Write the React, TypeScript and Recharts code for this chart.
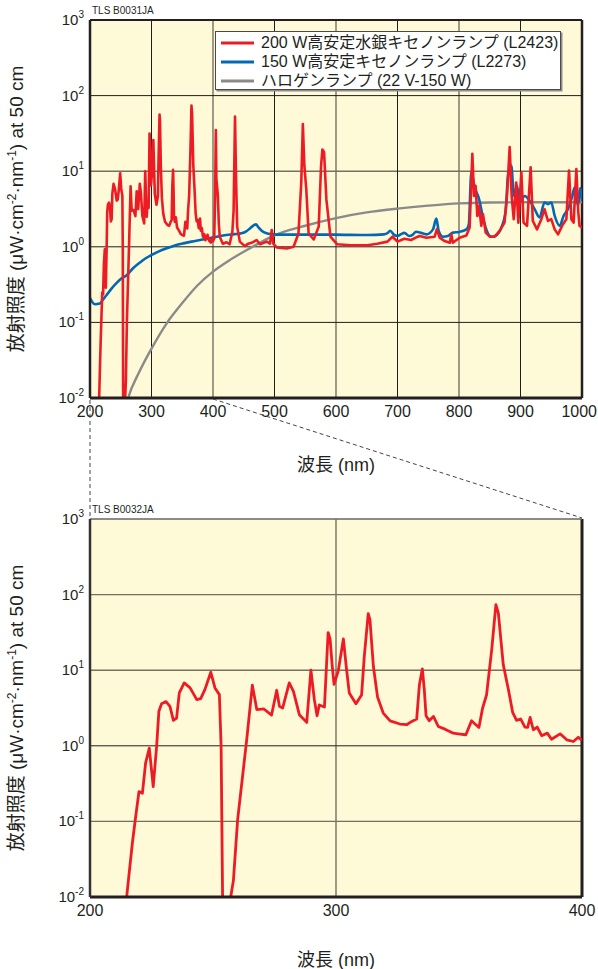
import React from 'react';
import { LineChart, Line, XAxis, YAxis, CartesianGrid, ReferenceLine, Legend } from 'recharts';

// ---- data: wavelength (nm), spectral irradiance (µW·cm⁻²·nm⁻¹ at 50 cm) ----

// 200 W Hg-Xe lamp, UV part (also used for the zoomed lower chart)
const hgXeUv: [number, number][] = [
  [213.5, 0.006], [214.9, 0.01], [217.2, 0.051], [218.3, 0.099], [219.9, 0.248], [221.3, 0.235],
  [222.6, 0.589], [224.1, 0.93], [225.7, 0.288], [227.1, 1.0], [228.0, 2.86], [229.1, 3.61],
  [230.9, 3.84], [232.5, 3.33], [233.9, 2.17], [235.2, 2.33], [236.3, 5.0], [238.3, 6.79],
  [240.7, 5.83], [243.4, 4.08], [245.0, 4.21], [246.7, 5.54], [249.1, 9.4], [250.8, 5.83],
  [252.6, 4.75], [253.3, 0.98], [253.9, 0.01], [254.5, 0.004], [256.8, 0.004], [257.2, 0.01],
  [258.3, 0.0166], [260.0, 0.104], [263.7, 1.2], [266.0, 6.33], [267.8, 3.01], [270.7, 3.07],
  [273.8, 2.55], [275.9, 5.43], [277.0, 3.33], [278.3, 3.16], [281.0, 6.79], [282.7, 5.26],
  [285.1, 2.58], [288.1, 2.04], [289.8, 10.0], [291.2, 4.08], [292.3, 2.5], [293.2, 3.47],
  [295.3, 3.26], [296.8, 31.5], [297.6, 26], [298.4, 12], [299.2, 6.5], [300.9, 9.7],
  [303.0, 25.9], [304.3, 10.2], [305.4, 5.0], [308.1, 3.6], [310.4, 4.7], [311.5, 15.2],
  [313.1, 56], [313.8, 46.7], [315.2, 11.2], [316.9, 4.4], [319.2, 2.71], [322.0, 2.14],
  [326.0, 1.94], [328.7, 1.9], [330.8, 2.1], [332.8, 2.26], [333.9, 6.4], [335.1, 10.4],
  [335.9, 5.5], [336.6, 2.5], [337.9, 2.14], [339.6, 2.45], [341.6, 1.8], [344.3, 1.66],
  [347.7, 1.47], [350.4, 1.43], [352.8, 1.4], [355.1, 2.14], [356.5, 1.94], [358.1, 1.75],
  [359.6, 3.16], [361.2, 4.7], [363.3, 18.7], [365.0, 73.8], [366.0, 57], [368.0, 11.8],
  [370.1, 5.5], [371.8, 2.77], [373.4, 2.17], [375.1, 2.26], [376.8, 1.77], [377.9, 1.75],
  [378.9, 2.37], [380.2, 1.63], [381.8, 1.77], [383.6, 1.36], [385.9, 1.47], [387.6, 1.22],
  [391.1, 1.44], [393.8, 1.2], [396.5, 1.14], [398.5, 1.3], [400.0, 1.18],
];

// 200 W Hg-Xe lamp, visible / near-IR part
const hgXeVis: [number, number][] = [
  [402, 1.3], [403.5, 5], [404.6, 35], [405.5, 8], [407.8, 4.9], [409.5, 2.0], [411, 1.36],
  [416, 1.1], [422, 1.15], [427, 1.08], [431.5, 1.58], [433.5, 3], [435.8, 53], [437.5, 8],
  [439.3, 1.85], [443.6, 1.17], [451.8, 1.02], [457.3, 1.1], [465, 1.15], [470.9, 1.23],
  [476.4, 1.08], [487.3, 1.17], [492.7, 1.1], [495.5, 1.67], [498, 1.1], [503.6, 0.98],
  [520, 0.95], [531, 1.0], [539, 1.5], [543.5, 7], [546.1, 42], [548.5, 12], [551.7, 5.7],
  [555.5, 1.5], [563.7, 1.25], [571.9, 1.85], [575.7, 11.7], [577.9, 19.4], [580.6, 17.9],
  [584.4, 4.2], [591, 1.36], [601.9, 1.08], [623.7, 1.05], [651, 1.05], [667, 1.1],
  [683.7, 1.17], [691.9, 1.36], [700, 1.17], [711, 1.28], [722, 1.23], [733, 1.36],
  [736, 1.39], [747, 1.32], [760.4, 1.36], [764, 1.7], [768.6, 1.32], [776.7, 1.19],
  [785, 1.13], [787.5, 1.46], [790, 1.13], [801, 1.32], [812, 1.41], [817.3, 1.8],
  [821.7, 17], [824.4, 4.7], [827, 6.4], [829.8, 2.56], [832.5, 3.49], [836.3, 1.89],
  [839, 2.7], [843.4, 1.54], [850, 1.36], [858, 1.36], [866, 1.62], [874, 2.09], [878, 4.7],
  [882.4, 20.9], [885.6, 4.7], [889, 2.32], [893, 7.1], [896.5, 2.09], [901.4, 9.7],
  [905, 2.09], [910.6, 1.89], [916.5, 11.3], [920, 2.2], [926.8, 1.7], [933.9, 2.32],
  [939, 3.15], [944.7, 2.2], [950, 2.32], [955.6, 1.7], [961, 1.46], [969, 1.99],
  [974.6, 2.32], [978.9, 10.2], [982.7, 2.32], [986.4, 2.09], [990.8, 10.7], [994, 2.85],
  [996, 1.89], [1000, 1.8],
];

// 150 W Xe lamp
const xenon: [number, number][] = [
  [200, 0.21], [204, 0.185], [208, 0.174], [216, 0.178], [221, 0.2], [227, 0.23], [235, 0.28],
  [243, 0.33], [251, 0.38], [259.6, 0.42], [270, 0.52], [281.3, 0.62], [290, 0.7],
  [300.3, 0.78], [312, 0.87], [324.7, 0.955], [338, 1.04], [351.8, 1.11], [365, 1.17],
  [378.9, 1.23], [394.5, 1.3], [410, 1.38], [421.8, 1.43], [435, 1.47], [446.4, 1.51],
  [454, 1.6], [460, 1.75], [466, 1.92], [469.8, 1.98], [474, 1.8], [479.1, 1.63],
  [487.3, 1.51], [495, 1.47], [503.6, 1.45], [541.8, 1.45], [596, 1.45], [651, 1.43],
  [678, 1.46], [684, 1.52], [688, 1.63], [694, 1.45], [700, 1.39], [706, 1.47], [711, 1.53],
  [719, 1.39], [725, 1.45], [730, 1.58], [736, 1.55], [746.9, 1.46], [757.7, 1.7],
  [763.1, 2.36], [767, 1.62], [774, 1.36], [782, 1.39], [790, 1.54], [800, 1.57], [812, 1.7],
  [816, 1.99], [820, 9.7], [825.5, 6.1], [832.5, 4.3], [839, 2.44], [844.4, 1.7],
  [852.6, 1.36], [860.7, 1.42], [868.8, 1.79], [875.9, 3.0], [879.7, 8.75], [885, 11.9],
  [889.4, 4.7], [894.3, 6.4], [898.6, 3.86], [906.8, 4.7], [914.9, 4.06], [923, 3.15],
  [931, 2.44], [939, 3.86], [944.7, 3.67], [950, 3.86], [955.6, 2.56], [963.7, 1.89],
  [970, 2.56], [977, 3.15], [984.3, 4.7], [988, 6.1], [993.5, 3.49], [997, 6.0], [1000, 4.0],
];

// 22 V-150 W halogen lamp
const halogen: [number, number][] = [
  [255, 0.006], [262, 0.01], [280, 0.022], [300, 0.045], [325, 0.098], [350, 0.18],
  [375, 0.31], [400, 0.47], [425, 0.65], [450, 0.86], [475, 1.12], [500, 1.42], [550, 1.9],
  [600, 2.4], [650, 2.85], [700, 3.2], [750, 3.5], [800, 3.75], [850, 3.85], [900, 3.88],
  [950, 3.88], [1000, 3.88],
];

const fullRangeTicks = [200, 300, 400, 500, 600, 700, 800, 900, 1000];
const uvRangeTicks = [200, 300, 400];
const decadeTicks = [0.01, 0.1, 1, 10, 100, 1000];

const seriesNames = {
  hgXe: '200 W高安定水銀キセノンランプ (L2423)',
  xe: '150 W高安定キセノンランプ (L2273)',
  halogen: 'ハロゲンランプ (22 V-150 W)',
};

const toPoints = (rows: [number, number][]) => rows.map(([nm, v]) => ({ nm, v }));

const hgXeUvPts = toPoints(hgXeUv);
const hgXeFullPts = toPoints([...hgXeUv, ...hgXeVis]);
const xenonPts = toPoints(xenon);
const halogenPts = toPoints(halogen);

// ---- styling ----
const FONT = "'Liberation Sans', Arial, 'Noto Sans CJK JP', sans-serif";
const INK = '#231f20';
const RED = '#ed1c24';
const BLUE = '#0068b5';
const GREY = '#8a8a8a';
const PAPER = '#fef9d6';
const GRID_DARK = '#1e1e1e';
const GRID_SOFT = '#77705f';

const PAGE_W = 598;
const PLOT_LEFT = 90;
const PLOT_W = 492;
const PLOT_H = 378;
const TOP_Y = 20;
const CHART2_TOP = 495;
const CHART2_MARGIN_TOP = 24;

const legendRows = [
  { name: seriesNames.hgXe, color: RED },
  { name: seriesNames.xe, color: BLUE },
  { name: seriesNames.halogen, color: GREY },
];

const DecadeTick = (props: any) => {
  const { x, y, payload } = props;
  const exp = Math.round(Math.log10(payload.value));
  return (
    <text x={x + 2} y={y} textAnchor="end" fontSize={15} fill={INK} fontFamily={FONT}>
      <tspan dy={5}>10</tspan>
      <tspan dy={-7} fontSize={10}>{exp}</tspan>
    </text>
  );
};

// tick labels stay inside the page: a label that would run past the right edge is end-anchored there
const NmTick = (props: any) => {
  const { x, y, payload } = props;
  const label = String(payload.value);
  const halfWidth = label.length * 4.45;
  const overflow = x + halfWidth > PAGE_W - 1;
  return (
    <text
      x={overflow ? PAGE_W - 1 : x}
      y={y}
      dy={11}
      textAnchor={overflow ? 'end' : 'middle'}
      fontSize={16}
      fill={INK}
      fontFamily={FONT}
    >
      {label}
    </text>
  );
};

const IrradianceTitle = (props: any) => {
  const vb = props.viewBox || { x: 0, y: TOP_Y, width: PLOT_LEFT, height: PLOT_H };
  const cx = 17;
  const cy = vb.y + vb.height / 2;
  return (
    <text
      x={cx}
      y={cy}
      transform={`rotate(-90 ${cx} ${cy})`}
      textAnchor="middle"
      dy={6}
      fontSize={19}
      fill={INK}
      fontFamily={FONT}
    >
      放射照度 (μW·cm
      <tspan dy={-7} fontSize={12}>-2</tspan>
      <tspan dy={7}>·nm</tspan>
      <tspan dy={-7} fontSize={12}>-1</tspan>
      <tspan dy={7}>) at 50 cm</tspan>
    </text>
  );
};

const wavelengthTitle = (drop: number) => (props: any) => {
  const vb = props.viewBox || { x: PLOT_LEFT, y: TOP_Y + PLOT_H, width: PLOT_W, height: 30 };
  return (
    <text
      x={vb.x + vb.width / 2}
      y={vb.y + drop}
      textAnchor="middle"
      fontSize={18}
      fill={INK}
      fontFamily={FONT}
    >
      波長 (nm)
    </text>
  );
};

const LegendBox = () => (
  <div
    style={{
      width: 346,
      height: 59,
      boxSizing: 'border-box',
      background: '#ffffff',
      border: '1px solid #4a4a4a',
      boxShadow: '1.5px 1.5px 0 #8c8c8c',
      paddingTop: 1,
      fontFamily: FONT,
    }}
  >
    {legendRows.map((r) => (
      <div key={r.name} style={{ display: 'flex', alignItems: 'center', height: 19 }}>
        <svg width={33} height={4} style={{ marginLeft: 5, flex: 'none' }}>
          <line x1={0} y1={2} x2={33} y2={2} stroke={r.color} strokeWidth={3} />
        </svg>
        <span style={{ marginLeft: 7, fontSize: 16, color: INK, whiteSpace: 'nowrap', lineHeight: '19px' }}>
          {r.name}
        </span>
      </div>
    ))}
  </div>
);

function FullRangeChart() {
  return (
    <LineChart width={PAGE_W} height={480} margin={{ top: TOP_Y, right: PAGE_W - PLOT_LEFT - PLOT_W, left: 0, bottom: 52 }}>
      <CartesianGrid
        fill={PAPER}
        fillOpacity={1}
        stroke={GRID_SOFT}
        strokeWidth={1.4}
        horizontalValues={[10]}
        verticalValues={[400, 600, 800]}
      />
      <CartesianGrid
        stroke={GRID_DARK}
        strokeWidth={1}
        horizontalValues={[0.1, 1, 100]}
        verticalValues={[300, 500, 700, 900]}
      />
      <XAxis
        type="number"
        dataKey="nm"
        domain={[200, 1000]}
        allowDataOverflow
        ticks={fullRangeTicks}
        interval={0}
        height={30}
        tickLine={false}
        axisLine={{ stroke: INK, strokeWidth: 3 }}
        tick={<NmTick />}
        label={wavelengthTitle(73)}
      />
      <YAxis
        type="number"
        dataKey="v"
        scale="log"
        domain={[0.01, 1000]}
        allowDataOverflow
        ticks={decadeTicks}
        interval={0}
        width={PLOT_LEFT}
        tickLine={false}
        axisLine={{ stroke: INK, strokeWidth: 2.5 }}
        tick={<DecadeTick />}
        label={IrradianceTitle}
      />
      <ReferenceLine x={1000} stroke={INK} strokeWidth={2.5} ifOverflow="visible" />
      <ReferenceLine y={1000} stroke={INK} strokeWidth={2} ifOverflow="visible" />
      <Line data={halogenPts} dataKey="v" name={seriesNames.halogen} type="monotone" stroke={GREY}
        strokeWidth={2.4} dot={false} activeDot={false} isAnimationActive={false} />
      <Line data={xenonPts} dataKey="v" name={seriesNames.xe} type="monotone" stroke={BLUE}
        strokeWidth={2.6} dot={false} activeDot={false} isAnimationActive={false} />
      <Line data={hgXeFullPts} dataKey="v" name={seriesNames.hgXe} type="linear" stroke={RED}
        strokeWidth={2.6} strokeLinejoin="round" dot={false} activeDot={false} isAnimationActive={false} />
      <Legend
        layout="vertical"
        align="center"
        verticalAlign="middle"
        content={<LegendBox />}
        wrapperStyle={{ left: 215, top: 31, width: 346, height: 59 }}
      />
    </LineChart>
  );
}

function UvRangeChart() {
  return (
    <LineChart width={PAGE_W} height={474} margin={{ top: CHART2_MARGIN_TOP, right: PAGE_W - PLOT_LEFT - PLOT_W, left: 0, bottom: 42 }}>
      <CartesianGrid
        fill={PAPER}
        fillOpacity={1}
        stroke={GRID_SOFT}
        strokeWidth={1.4}
        horizontalValues={[0.1, 10, 100]}
        verticalValues={[300]}
      />
      <CartesianGrid stroke={GRID_DARK} strokeWidth={1} horizontalValues={[1]} verticalValues={[300]} vertical={false} />
      <XAxis
        type="number"
        dataKey="nm"
        domain={[200, 400]}
        allowDataOverflow
        ticks={uvRangeTicks}
        interval={0}
        height={30}
        tickLine={false}
        axisLine={{ stroke: INK, strokeWidth: 3 }}
        tick={<NmTick />}
        label={wavelengthTitle(69)}
      />
      <YAxis
        type="number"
        dataKey="v"
        scale="log"
        domain={[0.01, 1000]}
        allowDataOverflow
        ticks={decadeTicks}
        interval={0}
        width={PLOT_LEFT}
        tickLine={false}
        axisLine={{ stroke: '#333333', strokeWidth: 2.5 }}
        tick={<DecadeTick />}
        label={IrradianceTitle}
      />
      <ReferenceLine x={400} stroke={INK} strokeWidth={3} ifOverflow="visible" />
      <ReferenceLine y={1000} stroke="#666666" strokeWidth={1.6} ifOverflow="visible" />
      <Line data={hgXeUvPts} dataKey="v" name={seriesNames.hgXe} type="linear" stroke={RED}
        strokeWidth={2.8} strokeLinejoin="round" dot={false} activeDot={false} isAnimationActive={false} />
    </LineChart>
  );
}

// dashed connector from the 200–400 nm span of the upper axis to the lower chart
const xAt = (nm: number) => PLOT_LEFT + ((nm - 200) / 800) * PLOT_W;
const upperAxisY = TOP_Y + PLOT_H;
const lowerTopY = CHART2_TOP + CHART2_MARGIN_TOP;

export default function App() {
  return (
    <div style={{ position: 'absolute', left: 0, top: 0, width: PAGE_W, height: 969, background: '#ffffff' }}>
      <div style={{ position: 'absolute', left: 0, top: 0 }}>
        <FullRangeChart />
      </div>
      <div style={{ position: 'absolute', left: 0, top: CHART2_TOP }}>
        <UvRangeChart />
      </div>
      <svg
        width={PAGE_W}
        height={969}
        style={{ position: 'absolute', left: 0, top: 0, pointerEvents: 'none' }}
      >
        <line x1={xAt(200)} y1={upperAxisY + 2} x2={xAt(200)} y2={lowerTopY - 1}
          stroke="#444" strokeWidth={1} strokeDasharray="4 3" />
        <line x1={xAt(400)} y1={upperAxisY + 1} x2={PLOT_LEFT + PLOT_W} y2={lowerTopY - 1}
          stroke="#444" strokeWidth={1} strokeDasharray="4 3" />
        <text x={92} y={14} fontSize={10} fill={INK} fontFamily={FONT}>TLS B0031JA</text>
        <text x={92} y={513} fontSize={10} fill={INK} fontFamily={FONT}>TLS B0032JA</text>
      </svg>
    </div>
  );
}
